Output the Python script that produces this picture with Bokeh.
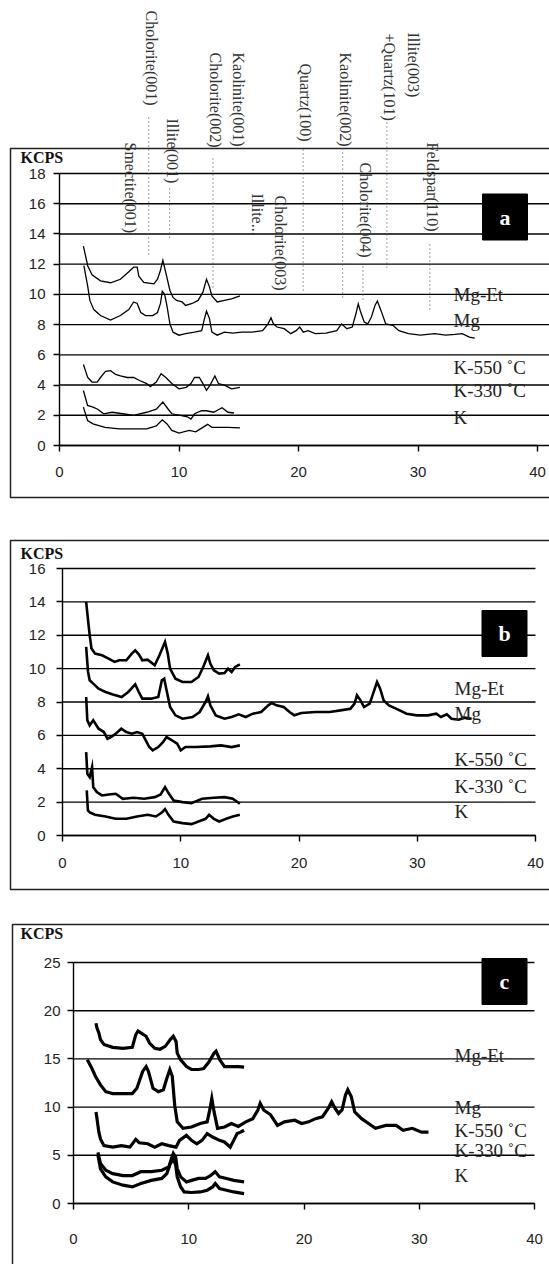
import numpy as np
from bokeh.plotting import figure
from bokeh.models import FixedTicker, Range1d
from bokeh.layouts import column
from bokeh.embed import file_html
from bokeh.resources import INLINE
from bokeh.core.properties import value

# ---------------- data ----------------
series_names = ["Mg-Et", "Mg", "K-550 ˚C", "K-330 ˚C", "K"]
x_ticks = [0, 10, 20, 30, 40]

# panel a
a_mget_x = [2.0, 2.36, 2.72, 3.43, 4.27, 5.1, 5.8, 6.2, 6.5, 6.64, 7.05, 7.9, 8.2, 8.45, 8.65, 8.95, 9.24, 9.5, 9.8, 10.26, 10.55, 11.1, 11.6, 12.0, 12.3, 12.55, 12.75, 13.2, 13.8, 14.4, 15.1]
a_mget_y = [13.2, 11.9, 11.3, 10.9, 10.77, 11.0, 11.5, 11.8, 11.8, 11.2, 10.8, 10.7, 11.0, 11.6, 12.25, 11.26, 10.26, 9.8, 9.6, 9.5, 9.27, 9.4, 9.6, 10.15, 11.0, 10.5, 9.9, 9.5, 9.6, 9.7, 9.9]
a_mg_x = [2.04, 2.37, 2.54, 2.87, 3.43, 4.27, 5.1, 5.8, 6.2, 6.5, 6.8, 7.2, 7.8, 8.2, 8.45, 8.6, 8.8, 9.0, 9.24, 9.5, 10.0, 10.55, 11.3, 11.9, 12.1, 12.3, 12.55, 12.75, 13.2, 13.8, 14.5, 15.25, 16.1, 17.0, 17.45, 17.7, 17.9, 18.2, 18.8, 19.35, 19.8, 20.1, 20.4, 20.8, 21.4, 22.3, 23.2, 23.6, 24.05, 24.5, 24.8, 25.0, 25.2, 25.5, 25.8, 26.1, 26.4, 26.6, 26.9, 27.3, 27.9, 28.4, 29.2, 30.2, 31.4, 32.3, 33.1, 33.7, 34.3, 34.75]
a_mg_y = [11.9, 10.5, 9.6, 9.0, 8.6, 8.3, 8.6, 9.0, 9.5, 9.4, 8.8, 8.6, 8.6, 8.8, 9.4, 10.2, 10.0, 9.2, 8.05, 7.5, 7.3, 7.4, 7.5, 7.6, 8.3, 8.9, 8.4, 7.5, 7.3, 7.5, 7.44, 7.5, 7.5, 7.6, 8.05, 8.45, 8.05, 7.84, 7.73, 7.4, 7.6, 7.84, 7.5, 7.6, 7.4, 7.44, 7.6, 8.05, 7.73, 7.84, 8.7, 9.38, 8.83, 8.17, 8.05, 8.5, 9.27, 9.56, 8.94, 8.05, 7.95, 7.6, 7.4, 7.3, 7.4, 7.3, 7.35, 7.4, 7.17, 7.1]
a_k550_x = [2.0, 2.36, 2.72, 3.15, 3.43, 3.85, 4.27, 4.7, 5.1, 5.66, 6.2, 6.7, 7.3, 7.6, 8.1, 8.5, 8.9, 9.4, 10.0, 10.6, 11.0, 11.3, 11.7, 12.0, 12.3, 12.6, 13.0, 13.3, 13.8, 14.4, 15.1]
a_k550_y = [5.36, 4.5, 4.2, 4.2, 4.5, 4.9, 4.95, 4.7, 4.6, 4.5, 4.5, 4.3, 4.1, 3.9, 4.2, 4.75, 4.5, 4.1, 3.75, 3.85, 4.1, 4.5, 4.5, 4.1, 3.65, 4.0, 4.6, 4.1, 4.0, 3.75, 3.85]
a_k330_x = [2.0, 2.35, 2.8, 3.2, 3.7, 4.4, 5.3, 6.2, 6.7, 7.3, 8.1, 8.65, 9.1, 9.4, 10.1, 10.7, 11.0, 11.3, 11.9, 12.3, 12.9, 13.6, 14.1, 14.6]
a_k330_y = [3.64, 2.65, 2.54, 2.4, 2.1, 2.2, 2.1, 2.0, 2.1, 2.2, 2.4, 2.87, 2.4, 2.1, 2.0, 1.9, 1.75, 2.1, 2.3, 2.3, 2.2, 2.5, 2.2, 2.15]
a_k_x = [2.0, 2.35, 2.8, 3.8, 5.0, 6.2, 7.3, 8.1, 8.6, 9.0, 9.4, 10.0, 10.85, 11.4, 12.0, 12.4, 12.75, 13.3, 14.1, 15.1]
a_k_y = [2.54, 1.65, 1.43, 1.2, 1.1, 1.1, 1.1, 1.3, 1.7, 1.43, 1.0, 0.82, 1.0, 0.9, 1.2, 1.4, 1.2, 1.2, 1.2, 1.17]

# panel b
b_mget_x = [2.0, 2.16, 2.3, 2.45, 2.75, 3.34, 3.9, 4.4, 4.8, 5.4, 5.86, 6.15, 6.45, 6.75, 7.2, 7.8, 8.2, 8.67, 8.9, 9.1, 9.55, 10.15, 10.9, 11.5, 11.9, 12.3, 12.5, 12.8, 13.25, 13.7, 14.0, 14.3, 14.6, 15.0]
b_mget_y = [14.0, 12.9, 12.0, 11.2, 10.9, 10.8, 10.6, 10.4, 10.5, 10.5, 10.9, 11.1, 10.86, 10.5, 10.54, 10.2, 10.8, 11.6, 10.9, 10.0, 9.4, 9.2, 9.2, 9.5, 10.1, 10.8, 10.3, 9.9, 9.7, 9.74, 10.0, 9.8, 10.1, 10.26]
b_mg_x = [2.0, 2.16, 2.3, 2.6, 3.05, 3.64, 4.2, 5.0, 5.56, 6.15, 6.45, 6.75, 7.5, 8.1, 8.4, 8.6, 8.8, 9.1, 9.55, 10.15, 11.0, 11.6, 12.1, 12.3, 12.5, 12.96, 13.7, 14.3, 14.9, 15.5, 16.1, 16.8, 17.4, 17.7, 18.1, 18.7, 19.2, 19.6, 20.2, 21.4, 22.6, 23.5, 24.35, 24.7, 24.9, 25.2, 25.5, 25.98, 26.36, 26.6, 26.86, 27.16, 27.6, 28.2, 29.1, 29.97, 30.9, 31.6, 32.0, 32.5, 32.9, 33.5, 34.0, 34.6]
b_mg_y = [11.3, 9.8, 9.3, 9.1, 8.8, 8.6, 8.46, 8.3, 8.6, 9.06, 8.6, 8.2, 8.2, 8.3, 9.3, 9.4, 8.7, 7.7, 7.2, 7.0, 7.1, 7.4, 8.0, 8.34, 7.8, 7.2, 7.0, 7.1, 7.26, 7.1, 7.3, 7.4, 7.8, 7.94, 7.8, 7.7, 7.4, 7.2, 7.34, 7.4, 7.4, 7.5, 7.6, 7.9, 8.4, 8.1, 7.7, 7.9, 8.7, 9.2, 8.8, 8.1, 7.8, 7.6, 7.3, 7.2, 7.2, 7.3, 7.1, 7.26, 7.0, 6.94, 7.06, 7.0]
b_k550_x = [2.0, 2.1, 2.3, 2.6, 3.05, 3.5, 3.8, 4.1, 4.5, 4.97, 5.4, 5.86, 6.3, 6.75, 7.04, 7.34, 7.63, 8.1, 8.5, 8.8, 9.26, 9.7, 10.0, 10.4, 11.3, 12.5, 13.4, 14.3, 15.0]
b_k550_y = [8.3, 6.9, 6.6, 6.9, 6.4, 6.2, 5.8, 5.9, 6.1, 6.4, 6.2, 6.1, 6.2, 6.1, 5.7, 5.3, 5.1, 5.3, 5.6, 5.9, 5.7, 5.5, 5.1, 5.3, 5.3, 5.34, 5.4, 5.3, 5.4]
b_k330_x = [2.0, 2.1, 2.3, 2.5, 2.6, 2.9, 3.34, 3.9, 4.5, 5.1, 6.0, 6.9, 7.8, 8.3, 8.67, 8.96, 9.4, 10.15, 10.9, 11.8, 12.8, 13.7, 14.4, 15.0]
b_k330_y = [5.0, 3.7, 3.5, 4.1, 2.9, 2.6, 2.4, 2.46, 2.5, 2.2, 2.26, 2.2, 2.3, 2.46, 2.9, 2.54, 2.1, 2.0, 1.94, 2.2, 2.26, 2.3, 2.2, 1.9]
b_k_x = [2.05, 2.15, 2.31, 2.75, 3.64, 4.5, 5.4, 6.3, 7.2, 7.9, 8.4, 8.67, 8.96, 9.4, 10.15, 10.9, 11.5, 12.1, 12.4, 12.8, 13.25, 13.85, 14.4, 15.0]
b_k_y = [2.7, 1.5, 1.38, 1.24, 1.14, 1.0, 1.0, 1.14, 1.24, 1.14, 1.38, 1.58, 1.24, 0.84, 0.74, 0.68, 0.84, 1.0, 1.24, 1.0, 0.84, 1.0, 1.14, 1.24]

# panel c
c_mget_x = [1.95, 2.04, 2.2, 2.34, 2.64, 3.4, 4.3, 5.1, 5.4, 5.6, 5.84, 6.3, 6.6, 7.05, 7.5, 7.96, 8.4, 8.66, 8.9, 9.0, 9.3, 9.8, 10.24, 10.85, 11.3, 11.76, 12.2, 12.37, 12.7, 13.1, 13.7, 14.3, 14.8]
c_mget_y = [18.7, 18.2, 17.7, 17.0, 16.5, 16.2, 16.1, 16.2, 17.5, 17.9, 17.7, 17.35, 16.65, 16.1, 16.0, 16.3, 17.0, 17.35, 16.8, 15.6, 14.9, 14.2, 13.9, 13.9, 14.0, 14.7, 15.6, 15.8, 14.9, 14.2, 14.2, 14.2, 14.15]
c_mg_x = [1.2, 1.6, 1.9, 2.34, 2.8, 3.4, 4.3, 5.1, 5.5, 6.0, 6.3, 6.5, 6.9, 7.36, 7.8, 8.1, 8.36, 8.57, 8.78, 9.0, 9.5, 10.24, 11.0, 11.6, 11.85, 12.0, 12.2, 12.5, 13.1, 13.7, 14.3, 14.95, 15.56, 16.0, 16.2, 16.5, 17.1, 17.7, 18.3, 19.2, 19.8, 20.4, 21.0, 21.6, 22.1, 22.4, 22.7, 23.0, 23.3, 23.6, 23.8, 24.1, 24.4, 25.0, 25.6, 26.2, 27.1, 28.0, 28.6, 29.4, 30.2, 30.8]
c_mg_y = [14.9, 14.0, 13.2, 12.3, 11.6, 11.4, 11.4, 11.4, 11.95, 13.7, 14.2, 13.7, 11.95, 11.6, 11.8, 13.0, 13.9, 13.2, 10.2, 8.47, 7.8, 7.94, 8.3, 8.47, 9.86, 10.9, 9.5, 7.8, 7.94, 8.3, 8.0, 8.47, 8.8, 9.7, 10.4, 9.7, 9.2, 8.1, 8.47, 8.64, 8.3, 8.47, 8.8, 9.0, 9.86, 10.56, 9.86, 9.34, 9.7, 11.25, 11.8, 11.1, 9.5, 8.8, 8.3, 7.8, 8.1, 8.1, 7.6, 7.8, 7.4, 7.4]
c_k550_x = [1.95, 2.04, 2.2, 2.34, 2.64, 3.4, 4.16, 4.9, 5.4, 5.7, 6.44, 7.05, 7.66, 8.27, 8.9, 9.2, 9.8, 10.24, 10.7, 11.15, 11.6, 12.07, 12.67, 13.1, 13.6, 13.9, 14.2, 14.5, 14.8]
c_k550_y = [9.5, 8.8, 7.4, 6.7, 6.0, 5.85, 6.0, 5.85, 6.65, 6.3, 6.2, 5.85, 6.2, 6.0, 5.85, 6.55, 7.07, 6.55, 6.2, 6.55, 7.25, 6.9, 6.55, 6.38, 5.85, 6.55, 7.25, 7.4, 7.6]
c_k330_x = [2.12, 2.34, 2.8, 3.4, 4.3, 5.1, 5.84, 6.75, 7.66, 8.27, 8.5, 8.66, 8.87, 9.0, 9.3, 9.8, 10.24, 10.85, 11.46, 11.9, 12.3, 12.67, 13.28, 13.9, 14.8]
c_k330_y = [5.3, 4.14, 3.45, 3.1, 2.9, 2.9, 3.3, 3.3, 3.45, 3.8, 4.66, 5.2, 4.8, 3.6, 2.76, 2.24, 2.4, 2.6, 2.6, 2.9, 3.3, 2.76, 2.6, 2.4, 2.24]
c_k_x = [2.12, 2.34, 2.8, 3.4, 4.3, 5.1, 5.84, 6.75, 7.66, 8.1, 8.4, 8.66, 8.87, 9.0, 9.3, 9.6, 10.24, 11.0, 11.6, 12.07, 12.3, 12.67, 13.28, 13.9, 14.8]
c_k_y = [5.0, 3.6, 2.76, 2.24, 1.9, 1.72, 2.07, 2.4, 2.6, 3.1, 4.14, 4.66, 3.97, 2.76, 1.72, 1.2, 1.14, 1.2, 1.38, 1.72, 2.07, 1.55, 1.38, 1.2, 1.03]

# peak annotations (panel a): 2-theta column of each label
peak_names = ["Smectite(001)", "Cholorite(001)", "Illite(001)", "Cholorite(002)",
              "Kaolinite(001)", "Illite...", "Cholorite(003)", "Quartz(100)",
              "Kaolinite(002)", "Cholorite(004)", "+Quartz(101)", "Illite(003)",
              "Feldspar(110)"]
peak_pos = [5.9, 7.67, 9.42, 13.05, 15.0, 16.6, 18.5, 20.6, 23.9, 25.6, 27.6, 29.6, 31.2]

# ---------------- layout / style (page pixels) ----------------
SERIF = "Liberation Serif"
SANS = "Liberation Sans"
W = 549
peak_top_px = [142, 10, 118, 52, 52, 193, 195, 63, 52, 162, 33, 32, 142]
peak_dot_px = [None, (117, 257), (188, 237), (158, 287), None, None, None,
               (149, 290), (148, 297), (266, 300), (122, 267), None, (244, 310)]

panels = [
    dict(letter="a", top=0, height=520, x0=59, x40=537, y0=445, ytop=173,
         ymax=18, ystep=2, grid_to_edge=True, lw=1.3,
         box=(10, 148, 497), kcps=(20, 157),
         lab_x=453, lab_y=[294, 320, 367, 390, 417], badge=(504.5, 216.5),
         ystand=8, xstand=15,
         curves=[(a_mget_x, a_mget_y), (a_mg_x, a_mg_y), (a_k550_x, a_k550_y),
                 (a_k330_x, a_k330_y), (a_k_x, a_k_y)]),
    dict(letter="b", top=520, height=385, x0=62, x40=535, y0=835, ytop=568,
         ymax=16, ystep=2, grid_to_edge=False, lw=2.6,
         box=(10, 540, 889), kcps=(20, 553),
         lab_x=454, lab_y=[688, 713, 759, 786, 811], badge=(504, 633),
         ystand=11, xstand=16,
         curves=[(b_mget_x, b_mget_y), (b_mg_x, b_mg_y), (b_k550_x, b_k550_y),
                 (b_k330_x, b_k330_y), (b_k_x, b_k_y)]),
    dict(letter="c", top=905, height=359, x0=73, x40=534, y0=1203, ytop=962,
         ymax=25, ystep=5, grid_to_edge=False, lw=3.2,
         box=(12, 924, 1300), kcps=(20, 933),
         lab_x=454, lab_y=[1055, 1107, 1130, 1150, 1175], badge=(504, 981),
         ystand=7, xstand=24,
         curves=[(c_mget_x, c_mget_y), (c_mg_x, c_mg_y), (c_k550_x, c_k550_y),
                 (c_k330_x, c_k330_y), (c_k_x, c_k_y)]),
]


def make_panel(cfg, annotate=False):
    sx = (cfg["x40"] - cfg["x0"]) / 40.0
    sy = (cfg["y0"] - cfg["ytop"]) / float(cfg["ymax"])
    px2x = lambda px: (px - cfg["x0"]) / sx
    py2y = lambda py: (cfg["y0"] - py) / sy

    p = figure(width=W, height=cfg["height"], output_backend="svg",
               toolbar_location=None,
               x_range=Range1d(px2x(0), px2x(W)),
               y_range=Range1d(py2y(cfg["top"] + cfg["height"]), py2y(cfg["top"])),
               min_border=0, min_border_left=0, min_border_right=0,
               min_border_top=0, min_border_bottom=0)
    p.outline_line_color = None
    p.background_fill_color = "white"
    p.border_fill_color = "white"
    p.xgrid.visible = False
    p.ygrid.visible = False

    yt = list(range(0, cfg["ymax"] + 1, cfg["ystep"]))
    p.xaxis.ticker = FixedTicker(ticks=x_ticks)
    p.yaxis.ticker = FixedTicker(ticks=yt)
    p.xaxis.fixed_location = 0
    p.yaxis.fixed_location = 0
    p.xaxis.bounds = (0, 40)
    p.yaxis.bounds = (0, cfg["ymax"])
    for ax in (p.xaxis, p.yaxis):
        ax.axis_line_color = "black"
        ax.axis_line_width = 1.4
        ax.major_tick_line_color = "black"
        ax.major_tick_line_width = 1.4
        ax.major_tick_out = 6
        ax.major_tick_in = 0
        ax.minor_tick_line_color = None
        ax.major_label_text_font = SANS
        ax.major_label_text_font_size = "15px"
        ax.major_label_text_color = "#222222"
    p.yaxis.major_label_standoff = cfg["ystand"]
    p.xaxis.major_label_standoff = cfg["xstand"]

    # horizontal grid lines at the y ticks, starting at the y axis
    gx1 = px2x(W + 5) if cfg["grid_to_edge"] else 40
    p.segment(x0=[0] * len(yt), x1=[gx1] * len(yt), y0=yt, y1=yt,
              line_color="black", line_width=1.4)

    # chart-area border (left, top, bottom edges; right edge is off-page)
    bl, bt, bb = cfg["box"]
    xl, xr = px2x(bl), px2x(W + 10)
    yt_, yb_ = py2y(bt), py2y(bb)
    p.line([xr, xl, xl, xr], [yt_, yt_, yb_, yb_], line_color="#222222",
           line_width=1.5)

    for xs, ys in cfg["curves"]:
        p.line(xs, ys, line_color="black", line_width=cfg["lw"],
               line_join="miter")

    p.text(x=[px2x(cfg["lab_x"])] * len(series_names),
           y=[py2y(v) for v in cfg["lab_y"]], text=series_names,
           text_font=value(SERIF), text_font_size="19px", text_color="#222222",
           text_align="left", text_baseline="middle")

    bx, by = cfg["badge"]
    p.rect(x=[px2x(bx)], y=[py2y(by)], width=45, height=46, width_units="screen",
           height_units="screen", fill_color="black", line_color="black")
    p.text(x=[px2x(bx)], y=[py2y(by)], text=[cfg["letter"]], text_color="white",
           text_font=value(SERIF), text_font_style="bold", text_font_size="22px",
           text_align="center", text_baseline="middle")

    kx, ky = cfg["kcps"]
    p.text(x=[px2x(kx)], y=[py2y(ky)], text=["KCPS"], text_font=value(SERIF),
           text_font_style="bold", text_font_size="16px", text_color="#111111",
           text_align="left", text_baseline="middle")

    if annotate:
        p.text(x=peak_pos, y=[py2y(v) for v in peak_top_px], text=peak_names,
               angle=-np.pi / 2, text_font=value(SERIF), text_font_size="16px",
               text_color="#333333", text_align="left", text_baseline="middle")
        dx0, dx1, dy0, dy1 = [], [], [], []
        for xpos, span in zip(peak_pos, peak_dot_px):
            if span is None:
                continue
            xd = xpos - 2.5 / sx
            dx0.append(xd); dx1.append(xd)
            dy0.append(py2y(span[0])); dy1.append(py2y(span[1]))
        p.segment(x0=dx0, x1=dx1, y0=dy0, y1=dy1, line_color="#555555",
                  line_width=1.1, line_dash="1 3")
    return p


figs = [make_panel(c, annotate=(i == 0)) for i, c in enumerate(panels)]
layout = column(*figs, spacing=0)
open("out.html", "w").write(file_html(layout, INLINE))
